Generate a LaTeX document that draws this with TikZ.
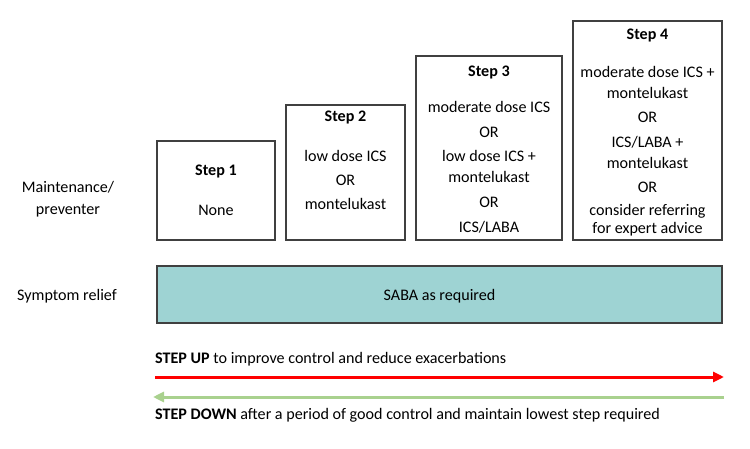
\documentclass[tikz,border=0pt]{standalone}
\usepackage{fontspec}
\setmainfont{Carlito}
\usetikzlibrary{arrows.meta}
\definecolor{boxline}{HTML}{404040}
\definecolor{teal}{HTML}{9ED3D3}
\definecolor{upred}{HTML}{FF0000}
\definecolor{downgreen}{HTML}{A9D18E}
\begin{document}
\begin{tikzpicture}[x=1pt,y=-1pt,
  stepbox/.style={draw=boxline,line width=1.2pt},
  txt/.style={font=\fontsize{16.1}{19}\selectfont,inner sep=0pt,anchor=center,align=center},
  ttl/.style={txt,font=\fontsize{16.1}{19}\selectfont\bfseries},
  arr/.style={line width=3pt,-{Triangle[length=11pt,width=10pt]}}]
\useasboundingbox (0,0) rectangle (750,449);
% boxes
\draw[stepbox] (157,141) rectangle (275,240);
\draw[stepbox] (286,105) rectangle (405,240);
\draw[stepbox] (416,56) rectangle (562,240);
\draw[stepbox] (573,21) rectangle (722,240);
% Step 1
\node[ttl] (s1t) at (216,171) {Step 1};
\node[txt] (s1a) at (216,210) {None};
% Step 2
\node[ttl] (s2t) at (345.5,117) {Step 2};
\node[txt] (s2a) at (345.5,156) {low dose ICS};
\node[txt] (s2b) at (345.5,180) {OR};
\node[txt] (s2c) at (345.5,204) {montelukast};
% Step 3
\node[ttl] (s3t) at (489,72) {Step 3};
\node[txt] (s3a) at (489,107) {moderate dose ICS};
\node[txt] (s3b) at (489,132) {OR};
\node[txt] (s3c) at (489,156) {low dose ICS +};
\node[txt] (s3d) at (489,177) {montelukast};
\node[txt] (s3e) at (489,202) {OR};
\node[txt] (s3f) at (489,227) {ICS/LABA};
% Step 4
\node[ttl] (s4t) at (647.5,35) {Step 4};
\node[txt] (s4a) at (647.5,72) {moderate dose ICS +};
\node[txt] (s4b) at (647.5,93) {montelukast};
\node[txt] (s4c) at (647.5,117) {OR};
\node[txt] (s4d) at (647.5,142) {ICS/LABA +};
\node[txt] (s4e) at (647.5,163) {montelukast};
\node[txt] (s4f) at (647.5,187) {OR};
\node[txt] (s4g) at (647.5,211) {consider referring};
\node[txt] (s4h) at (647.5,229) {for expert advice};
% SABA bar
\draw[stepbox,fill=teal] (157,266) rectangle (722,323);
\node[txt] (saba) at (439.5,296) {SABA as required};
% row labels
\node[txt] (maint1) at (68,187) {Maintenance/};
\node[txt] (maint2) at (68,211) {preventer};
\node[txt] (sympt) at (67,296) {Symptom relief};
% arrows
\coordinate (ul) at (155,377);
\coordinate (ur) at (724,377);
\coordinate (dl) at (153,397);
\coordinate (dr) at (724,397);
\draw[arr,upred] (ul) -- (ur);
\draw[arr,downgreen] (dr) -- (dl);
\node[txt,anchor=west] (up) at (155,359) {\textbf{STEP UP} to improve control and reduce exacerbations};
\node[txt,anchor=west] (down) at (155,415) {\textbf{STEP DOWN} after a period of good control and maintain lowest step required};
\end{tikzpicture}
\end{document}
